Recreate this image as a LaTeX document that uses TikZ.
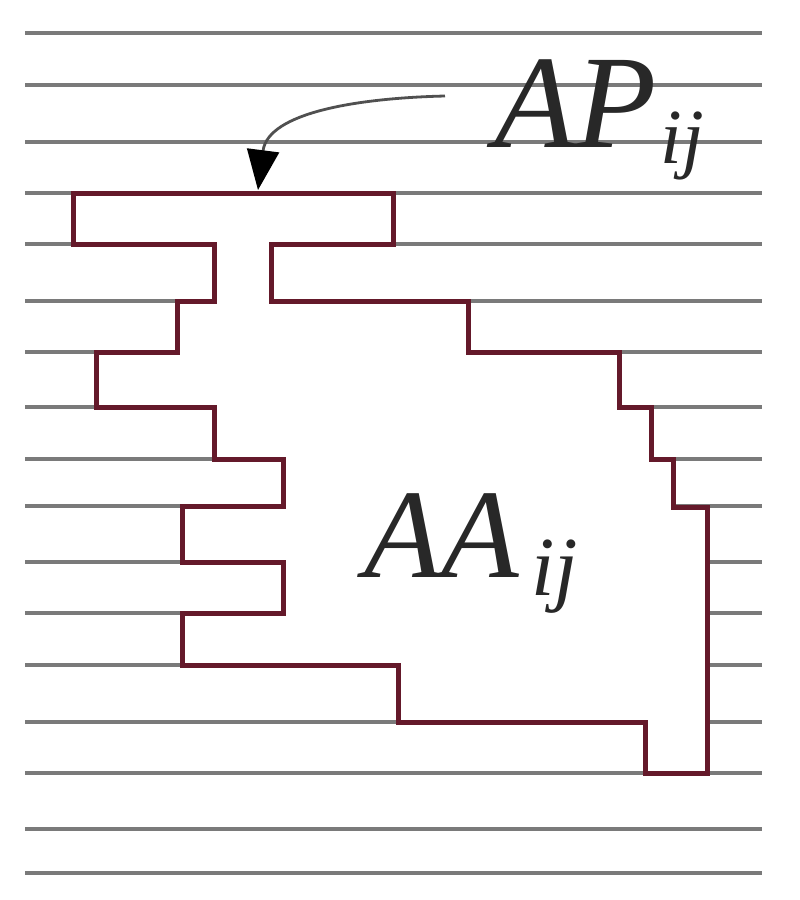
\documentclass[tikz,border=0pt]{standalone}
\usepackage{fontspec}
\newfontfamily\tms{Liberation Serif}
\usetikzlibrary{arrows.meta}
\definecolor{rulegray}{RGB}{122,122,122}
\definecolor{outl}{RGB}{100,25,42}
\definecolor{arrgray}{RGB}{80,80,80}
\definecolor{txtgray}{RGB}{40,40,40}
\begin{document}
\begin{tikzpicture}[x=1pt,y=-1pt,
  rulel/.style={draw=rulegray,line width=4.5pt},
  region/.style={draw=outl,fill=white,line width=5pt,line join=miter},
  lbl/.style={inner sep=0pt,anchor=base west,font=\tms\itshape,text=txtgray},
  pointer/.style={draw=arrgray,line width=2.8pt,-{Triangle[length=40pt,width=32pt,fill=black,color=black]}}]
\useasboundingbox[fill=white] (0,0) rectangle (800,900);
\foreach \y in {33,85,142,193,244,301,352,407,459,506,562,613,665,722,773,829,873}
  \draw[rulel] (25,\y) -- (762,\y);
\draw[region] (73,193) -- (393,193) -- (393,244) -- (271,244) -- (271,301)
  -- (468,301) -- (468,352) -- (619,352) -- (619,407) -- (651,407)
  -- (651,459) -- (673,459) -- (673,507) -- (707,507) -- (707,773)
  -- (645,773) -- (645,722) -- (398,722) -- (398,665) -- (182,665)
  -- (182,613) -- (283,613) -- (283,562) -- (182,562) -- (182,506)
  -- (283,506) -- (283,459) -- (214,459) -- (214,407) -- (96,407)
  -- (96,352) -- (177,352) -- (177,301) -- (214,301) -- (214,244)
  -- (73,244) -- cycle;
\node[lbl] (apn) at (494,147) {\fontsize{133}{133}\selectfont AP\kern4pt\raisebox{-16pt}{\fontsize{78}{78}\selectfont ij}};
\node[lbl] (aan) at (364,577) {\fontsize{127}{127}\selectfont AA\kern12pt\raisebox{-18pt}{\fontsize{84}{84}\selectfont ij}};
\coordinate (apstart) at (445,96);
\coordinate (aptip) at (258,190);
\draw[pointer] (apstart) .. controls (360,98) and (268,112) .. (aptip);
\end{tikzpicture}
\end{document}
